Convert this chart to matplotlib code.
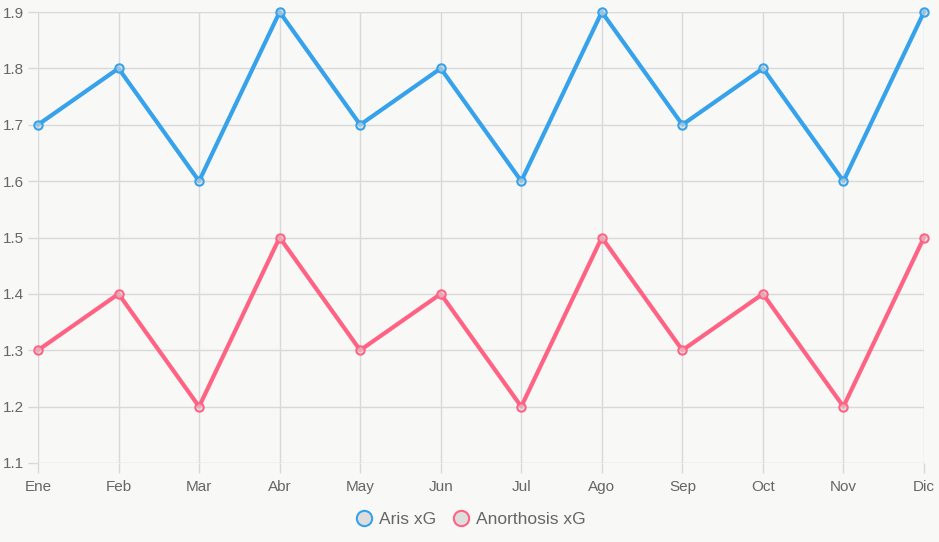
import matplotlib.pyplot as plt
from matplotlib.lines import Line2D

plt.rcParams['font.family'] = ['Liberation Sans', 'DejaVu Sans']

meses = ['Ene', 'Feb', 'Mar', 'Abr', 'May', 'Jun', 'Jul', 'Ago', 'Sep', 'Oct', 'Nov', 'Dic']
aris_xg = [1.7, 1.8, 1.6, 1.9, 1.7, 1.8, 1.6, 1.9, 1.7, 1.8, 1.6, 1.9]
anorthosis_xg = [1.3, 1.4, 1.2, 1.5, 1.3, 1.4, 1.2, 1.5, 1.3, 1.4, 1.2, 1.5]
yticks = [1.1, 1.2, 1.3, 1.4, 1.5, 1.6, 1.7, 1.8, 1.9]

bg = '#f8f8f6'
azul = '#36a2eb'
rosa = '#ff6384'
gris = '#d9d9d9'

fig = plt.figure(figsize=(9.39, 5.42), dpi=100, facecolor=bg)
ax = fig.add_axes([38 / 939, 1 - 463 / 542, 886 / 939, 451 / 542])
ax.set_facecolor(bg)

x = range(len(meses))
ax.plot(x, aris_xg, color=azul, lw=3, marker='o', ms=6, mfc=(0.85, 0.85, 0.85, 0.6),
        mec=azul, mew=1.5, zorder=3, clip_on=False)
ax.plot(x, anorthosis_xg, color=rosa, lw=3, marker='o', ms=6, mfc=(0.85, 0.85, 0.85, 0.6),
        mec=rosa, mew=1.5, zorder=3, clip_on=False)

ax.set_xlim(0, len(meses) - 1)
ax.set_ylim(1.1, 1.9)
ax.set_xticks(list(x))
ax.set_xticklabels(meses)
ax.set_yticks(yticks)
ax.set_yticklabels(['%.1f' % v for v in yticks])
ax.grid(True, color=gris, lw=1)
ax.set_axisbelow(True)
for s in ax.spines.values():
    s.set_visible(False)
ax.tick_params(length=7, color=gris, width=1, labelcolor='#666666', labelsize=11)
ax.tick_params(axis='x', pad=5)
ax.tick_params(axis='y', pad=3)

handles = [
    Line2D([], [], ls='none', marker='o', ms=11, mfc='#dddddd', mec=azul, mew=1.5),
    Line2D([], [], ls='none', marker='o', ms=11, mfc='#dddddd', mec=rosa, mew=1.5),
]
fig.legend(handles, ['Aris xG', 'Anorthosis xG'], loc='center', bbox_to_anchor=(0.5, 1 - 519 / 542),
           ncol=2, frameon=False, fontsize=12.5, labelcolor='#666666', handletextpad=0.3,
           columnspacing=0.8, handlelength=1.2)

fig.savefig('out.png', dpi=100, facecolor=bg)
